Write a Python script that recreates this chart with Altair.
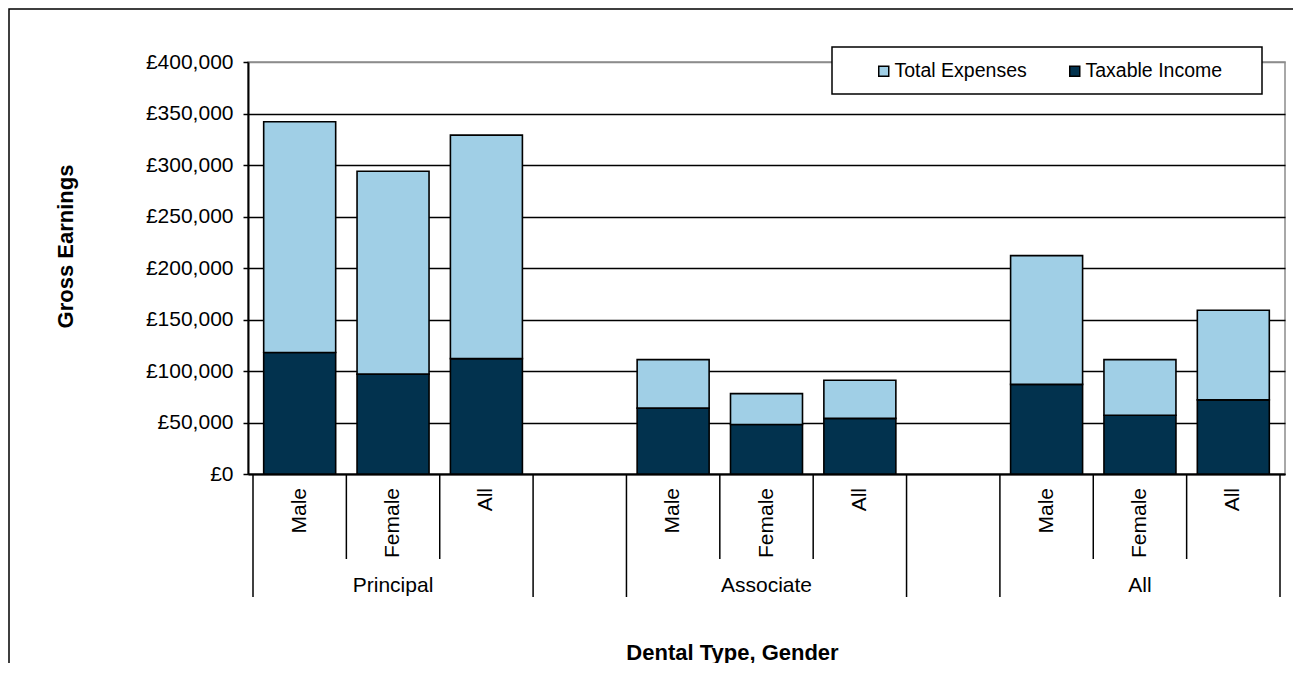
import altair as alt
import pandas as pd

# ---- data ----
groups = ["Principal", "Associate", "All"]
genders = ["Male", "Female", "All"]
taxable_income = [118000, 97000, 112000, 64000, 48000, 54000, 87000, 57000, 72000]
gross_total = [342000, 294000, 329000, 111000, 78000, 91000, 212000, 111000, 159000]
series = ["Total Expenses", "Taxable Income"]
colors = ["#A0CFE6", "#02324E"]
y_ticks = [0, 50000, 100000, 150000, 200000, 250000, 300000, 350000, 400000]

FONT = "Liberation Sans"
W, H = 1037, 412

# category layout: each group has one slot per gender, followed by an empty slot
spg = len(genders) + 1
n_slots = len(groups) * spg - 1

rows, subs = [], []
for gi, g in enumerate(groups):
    for si, s in enumerate(genders):
        k = gi * len(genders) + si
        pos = gi * spg + si + 0.5
        rows.append(dict(group=g, gender=s, pos=pos, series="Taxable Income",
                         value=taxable_income[k], ord=0))
        rows.append(dict(group=g, gender=s, pos=pos, series="Total Expenses",
                         value=gross_total[k] - taxable_income[k], ord=1))
        subs.append(dict(pos=pos, label=s))
bars_df = pd.DataFrame(rows)
sub_df = pd.DataFrame(subs)
grp_df = pd.DataFrame([dict(pos=gi * spg + len(genders) / 2, label=g) for gi, g in enumerate(groups)])
short_df = pd.DataFrame([dict(pos=gi * spg + j) for gi in range(len(groups)) for j in range(1, len(genders))])
long_df = pd.DataFrame([dict(pos=gi * spg + j) for gi in range(len(groups)) for j in (0, len(genders))])

xscale = alt.Scale(domain=[0, n_slots], nice=False, zero=False)
xaxis = alt.Axis(labels=False, ticks=False, grid=False, domainColor="black", domainWidth=2,
                 title="Dental Type, Gender", titleFont=FONT, titleFontSize=22,
                 titleFontWeight="bold", titleColor="black",
                 titleX=484, titleY=178, titleBaseline="middle", titleAlign="center")
x_enc = alt.X("pos:Q", scale=xscale, axis=xaxis)

bars = alt.Chart(bars_df).mark_bar(size=72, stroke="black", strokeWidth=1.6).encode(
    x=x_enc,
    y=alt.Y("value:Q", stack="zero",
            scale=alt.Scale(domain=[0, 400000], nice=False),
            axis=alt.Axis(values=y_ticks, labelExpr="'£' + format(datum.value, ',')",
                          labelFont=FONT, labelFontSize=21, labelColor="black",
                          labelPadding=10, tickSize=5, tickColor="black", tickWidth=1.5,
                          domainColor="black", domainWidth=2,
                          gridColor={"condition": {"test": "datum.value === 400000", "value": "#8c8c8c"},
                                     "value": "black"},
                          gridWidth=1.5,
                          title="Gross Earnings", titleFont=FONT, titleFontSize=22,
                          titleFontWeight="bold", titleColor="black",
                          titleX=-183, titleY=184, titleAngle=270,
                          titleBaseline="middle", titleAlign="center")),
    color=alt.Color("series:N", scale=alt.Scale(domain=series, range=colors),
                    legend=alt.Legend(title=None, orient="none", direction="horizontal",
                                      legendX=626, legendY=-1,
                                      symbolType="square", symbolSize=100,
                                      symbolStrokeColor="black", symbolStrokeWidth=1.5,
                                      labelFont=FONT, labelFontSize=19.5, labelColor="black",
                                      labelOffset=1, columnPadding=38, padding=0)),
    order=alt.Order("ord:Q"),
)

legend_box = alt.Chart(pd.DataFrame({"a": [0]})).mark_rect(
    fill="white", stroke="black", strokeWidth=1.5
).encode(x=alt.value(584), x2=alt.value(1014), y=alt.value(-15), y2=alt.value(32))

frame = alt.Chart(pd.DataFrame({"a": [0]})).mark_rect(
    fill=None, stroke="black", strokeWidth=1.5
).encode(x=alt.value(-239), x2=alt.value(W + 60), y=alt.value(-53), y2=alt.value(H + 300))

short_rules = alt.Chart(short_df).mark_rule(color="black", strokeWidth=1.5).encode(
    x=x_enc, y=alt.value(H), y2=alt.value(H + 85))
long_rules = alt.Chart(long_df).mark_rule(color="black", strokeWidth=1.5).encode(
    x=x_enc, y=alt.value(H), y2=alt.value(H + 123))

sub_text = alt.Chart(sub_df).mark_text(
    angle=270, align="right", baseline="middle", font=FONT, fontSize=21, color="black"
).encode(x=x_enc, y=alt.value(H + 14), text="label:N")

grp_text = alt.Chart(grp_df).mark_text(
    align="center", baseline="middle", font=FONT, fontSize=21, color="black"
).encode(x=x_enc, y=alt.value(H + 112), text="label:N")

chart = alt.layer(frame, bars, legend_box, short_rules, long_rules, sub_text, grp_text).properties(
    width=W, height=H,
    padding={"left": 240, "top": 54, "right": 8, "bottom": 189},
    autosize=alt.AutoSizeParams(type="none"),
    background="white",
).configure_view(stroke="#8c8c8c", strokeWidth=1.5)

chart.save("out.html", embed_options={"renderer": "svg", "actions": False})
